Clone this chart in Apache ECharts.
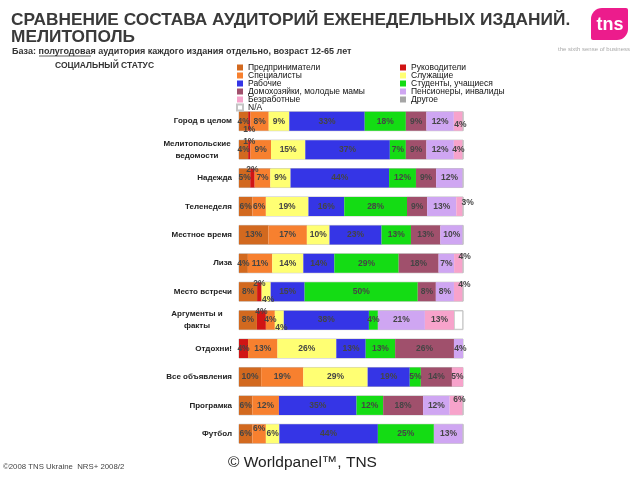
<!DOCTYPE html>
<html><head><meta charset="utf-8">
<script src="https://cdn.jsdelivr.net/npm/echarts@6/dist/echarts.min.js"></script>
<style>html,body{margin:0;padding:0;background:#fff}#c{width:640px;height:480px}</style>
</head><body><div id="c"></div>
<script>
const categories = ['Город в целом','Мелитопольские\nведомости','Надежда','Теленеделя','Местное время','Лиза','Место встречи','Аргументы и\nфакты','Отдохни!','Все объявления','Програмка','Футбол'];
const seriesNames = ['Предприниматели','Руководители','Специалисты','Служащие','Рабочие','Студенты, учащиеся','Домохозяйки, молодые мамы','Пенсионеры, инвалиды','Безработные','Другое','N/A'];
const predprinimateli = [4,4,5,6,13,4,8,8,0,10,6,6];
const rukovoditeli    = [1,1,2,0,0,0,2,4,4,0,0,0];
const specialisty     = [8,9,7,6,17,11,0,4,13,19,12,6];
const sluzhashchie    = [9,15,9,19,10,14,4,4,26,29,0,6];
const rabochie        = [33,37,44,16,23,14,15,38,13,19,35,44];
const studenty        = [18,7,12,28,13,29,50,4,13,5,12,25];
const domohozyaiki    = [9,9,9,9,13,18,8,0,26,14,18,0];
const pensionery      = [12,12,12,13,10,7,8,21,4,0,12,13];
const bezrabotnye     = [4,4,0,3,0,4,4,13,0,5,6,0];
const drugoe          = [0,0,0,0,0,0,0,0,0,0,0,0];
const na              = [0,0,0,0,0,0,0,4,0,0,0,0];
const values = [predprinimateli,rukovoditeli,specialisty,sluzhashchie,rabochie,studenty,domohozyaiki,pensionery,bezrabotnye,drugoe,na];

const colors = ['#D2691F','#D01414','#F7802F','#FFFF73','#3535E6','#14DC14','#A0506C','#CFA6F2','#F7A3CB','#A6A6A6','#FFFFFF'];
// label offsets for small segments: "series|row" -> [dx,dy]
const labelOffsets = {
  '1|0':[0,8],'8|0':[2,3],'1|1':[0,-8],'1|2':[0,-8],'8|3':[8,-4],'8|5':[6,-7],
  '1|6':[0,-8],'3|6':[2,8],'8|6':[6,-7],'1|7':[0,-8],'3|7':[2,8],'7|8':[2,0],
  '8|10':[3,-6],'2|11':[0,-5]
};
const rowSums = categories.map((_,r)=>values.reduce((s,a)=>s+a[r],0));

const chart = echarts.init(document.getElementById('c'));
const FONT = 'Liberation Sans, Arial, sans-serif';
const series = seriesNames.map((name,si)=>({
  name, type:'bar', stack:'t', barWidth:19,
  showBackground: si===0,
  backgroundStyle:{color:'rgba(0,0,0,0)',borderColor:'#c4c4c4',borderWidth:1},
  itemStyle:{color:colors[si], borderColor: si===10?'#c4c4c4':undefined, borderWidth: si===10?0.8:0},
  data: values[si].map((v,r)=>{
    if(!v) return {value:0, label:{show:false}};
    const off = labelOffsets[si+'|'+r] || [0,0];
    return {value: v/rowSums[r]*100, raw:v, label:{show: si!==10, offset:off}};
  }),
  label:{show:true, position:'inside', color:'#454545', fontSize:8.5, fontWeight:'bold', fontFamily:FONT,
    formatter: p => p.data.raw + '%'},
  emphasis:{disabled:true}
}));

const legendText = {fontSize:8.5, lineHeight:8, color:'#111', fontFamily:FONT};
chart.setOption({
  animation:false,
  title:[
    {text:'СРАВНЕНИЕ СОСТАВА АУДИТОРИЙ ЕЖЕНЕДЕЛЬНЫХ ИЗДАНИЙ.\nМЕЛИТОПОЛЬ', left:11, top:12, padding:0,
     textStyle:{fontSize:17.3, lineHeight:17, fontWeight:'bold', color:'#3a3a3a', fontFamily:FONT}},
    {text:'База: полугодовая аудитория каждого издания отдельно, возраст 12-65 лет', left:12, top:47, padding:0,
     textStyle:{fontSize:9, fontWeight:'bold', color:'#333', fontFamily:FONT}},
    {text:'СОЦИАЛЬНЫЙ СТАТУС', left:55, top:61, padding:0,
     textStyle:{fontSize:8.5, fontWeight:'bold', color:'#333', fontFamily:FONT}},
    {text:'©2008 TNS Ukraine  NRS+ 2008/2', left:3, top:463, padding:0,
     textStyle:{fontSize:7.8, fontWeight:'normal', color:'#444', fontFamily:FONT}},
    {text:'© Worldpanel™, TNS', left:228, top:455, padding:0,
     textStyle:{fontSize:15.5, fontWeight:'normal', color:'#222', fontFamily:FONT}}
  ],
  legend:[
    {data:[seriesNames[0],seriesNames[2],seriesNames[4],seriesNames[6],seriesNames[8],seriesNames[10]],
     orient:'vertical', left:236, top:63, itemWidth:6, itemHeight:6, itemGap:-1, padding:0, icon:'rect', textStyle:legendText, selectedMode:false},
    {data:[seriesNames[1],seriesNames[3],seriesNames[5],seriesNames[7],seriesNames[9]],
     orient:'vertical', left:400, top:63, itemWidth:6, itemHeight:6, itemGap:-1, padding:0, icon:'rect', textStyle:legendText, selectedMode:false}
  ],
  grid:{left:239, right:177, top:107, bottom:32, containLabel:false},
  xAxis:{type:'value', min:0, max:100, show:false},
  yAxis:{type:'category', data:categories, inverse:true,
    axisLine:{show:false}, axisTick:{show:false}, splitLine:{show:false},
    axisLabel:{margin:7, color:'#222', fontSize:8, fontWeight:'bold', fontFamily:FONT, lineHeight:11,
      formatter: v => v.indexOf('\n')>=0 ? '{c|'+v+'}' : v,
      rich:{c:{width:70, align:'center', fontSize:8, fontWeight:'bold', color:'#222', lineHeight:12}}}},
  series,
  graphic:[
    {type:'line', shape:{x1:39, y1:56, x2:91, y2:56}, style:{stroke:'#333', lineWidth:0.8}},
    {type:'rect', shape:{x:591, y:8, width:37, height:32, r:[11,2,11,2]}, style:{fill:'#EC1C8C'}},
    {type:'text', x:610, y:25, style:{text:'tns', fill:'#fff', font:'bold 18px Liberation Sans, Arial, sans-serif', textAlign:'center', textVerticalAlign:'middle'}},
    {type:'text', x:630, y:49, style:{text:'the sixth sense of business', fill:'#aaa', font:'6px Liberation Sans, Arial, sans-serif', textAlign:'right', textVerticalAlign:'middle'}}
  ]
});
</script></body></html>
